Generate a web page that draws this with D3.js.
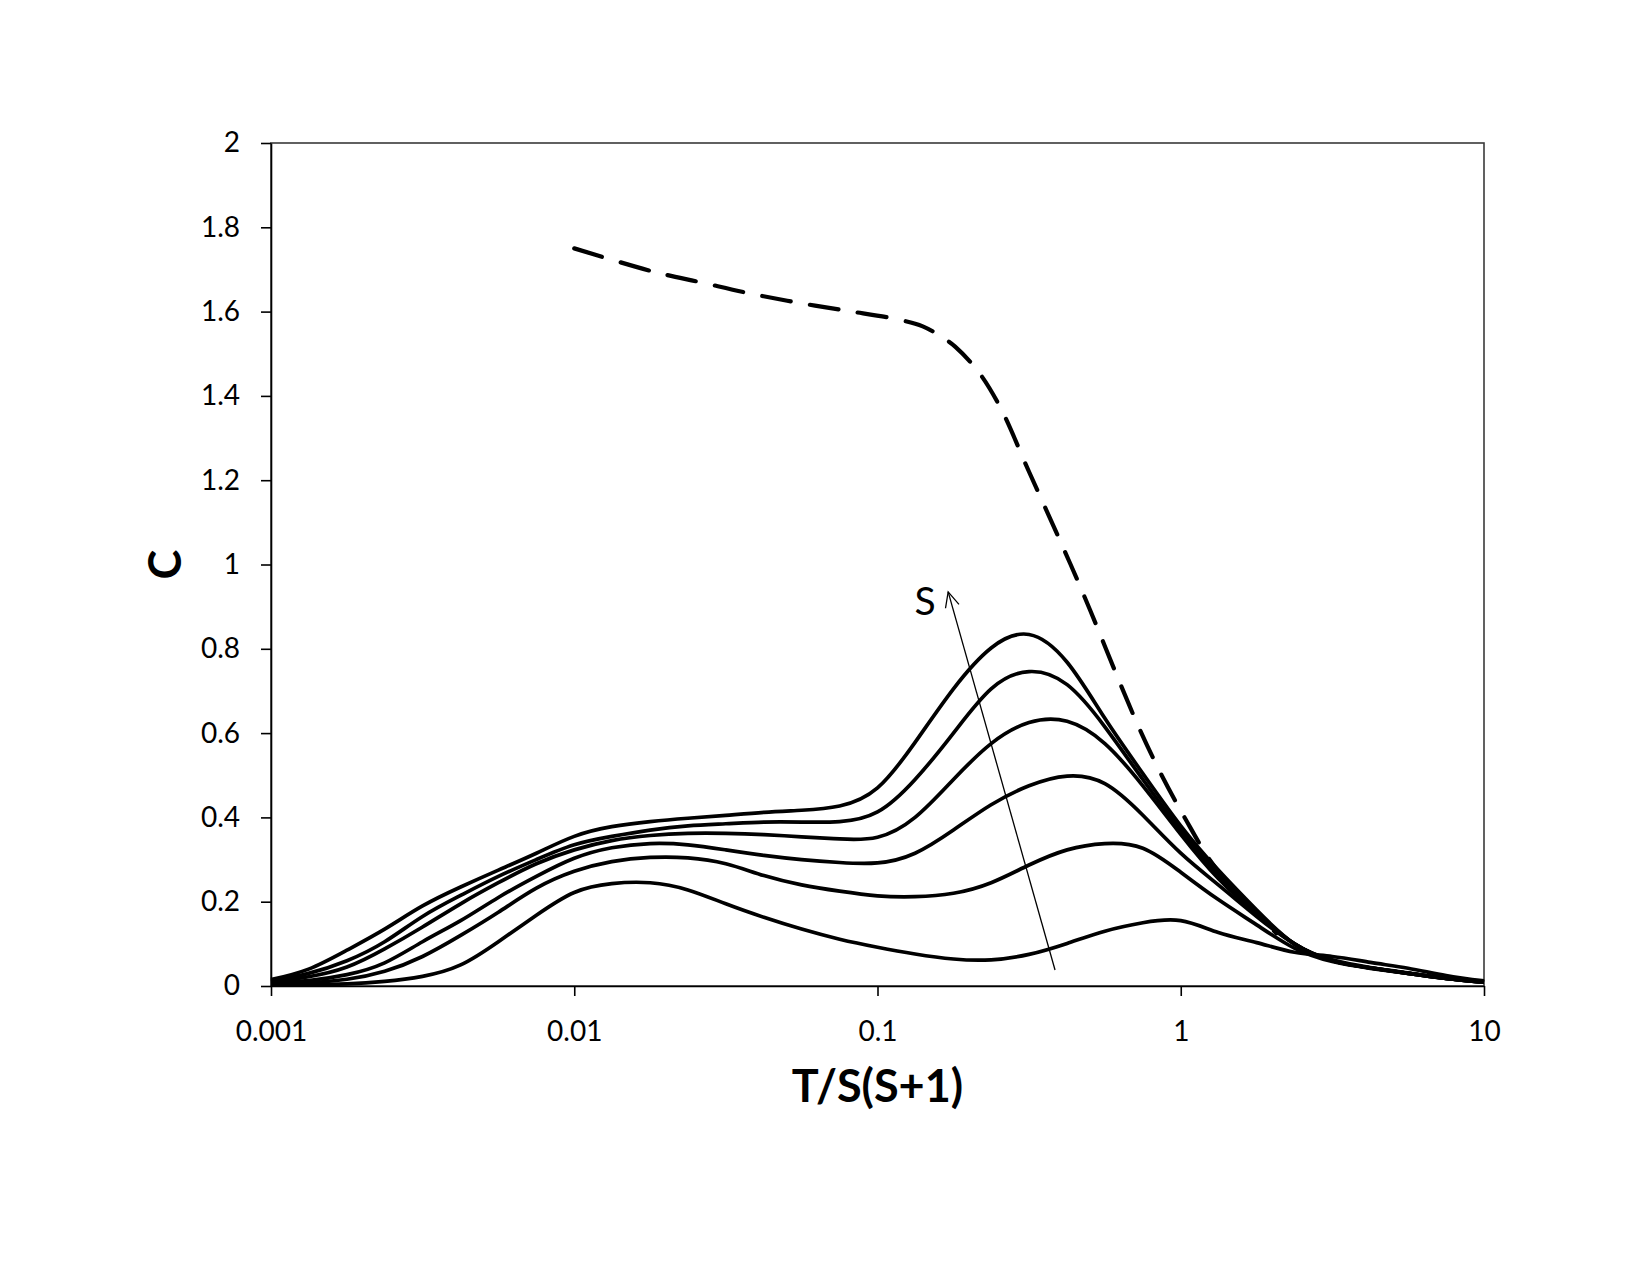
<!DOCTYPE html>
<html><head><meta charset="utf-8">
<script src="https://cdn.jsdelivr.net/npm/d3@7"></script>
<style>
body{margin:0;background:#fff;}
svg{display:block;}
text{font-family:Lato,'Open Sans',sans-serif;fill:#000;}
</style>
</head><body>
<svg id="chart" width="1650" height="1275"></svg>
<script>
// x values T/S(S+1) (log-spaced sampling)
const xGrid = [0.001,0.00133,0.00178,0.00237,0.00316,0.00422,0.00562,0.0075,0.01,0.0133,0.0178,0.0237,0.0316,0.0422,0.0562,0.075,0.1,0.133,0.178,0.237,0.316,0.422,0.562,0.75,1,1.33,1.78,2.37,3.16,4.22,5.62,7.5,10];
// C for increasing S (curve 1 = smallest S)
const curve1 = [0.003,0.003,0.005,0.011,0.023,0.05,0.105,0.168,0.222,0.243,0.245,0.228,0.195,0.163,0.135,0.111,0.092,0.076,0.064,0.062,0.075,0.101,0.13,0.15,0.155,0.127,0.103,0.08,0.07,0.056,0.042,0.025,0.012];
const curve2 = [0.005,0.008,0.016,0.035,0.07,0.12,0.175,0.232,0.272,0.295,0.305,0.304,0.29,0.262,0.24,0.225,0.214,0.212,0.22,0.245,0.287,0.323,0.338,0.327,0.27,0.205,0.145,0.09,0.058,0.042,0.03,0.018,0.009];
const curve3 = [0.008,0.013,0.027,0.055,0.105,0.155,0.21,0.26,0.303,0.328,0.338,0.335,0.323,0.31,0.3,0.293,0.292,0.315,0.37,0.43,0.475,0.498,0.48,0.405,0.315,0.24,0.165,0.1,0.06,0.043,0.03,0.018,0.009];
const curve4 = [0.01,0.022,0.045,0.088,0.14,0.195,0.245,0.29,0.323,0.345,0.357,0.362,0.362,0.359,0.354,0.349,0.353,0.40,0.49,0.575,0.625,0.628,0.575,0.475,0.36,0.255,0.17,0.1,0.06,0.043,0.03,0.018,0.009];
const curve5 = [0.012,0.03,0.06,0.105,0.165,0.215,0.26,0.3,0.335,0.355,0.37,0.38,0.385,0.389,0.389,0.39,0.413,0.49,0.60,0.705,0.746,0.715,0.615,0.49,0.37,0.265,0.175,0.1,0.06,0.043,0.03,0.018,0.009];
const curve6 = [0.015,0.04,0.085,0.135,0.19,0.235,0.275,0.315,0.355,0.378,0.39,0.398,0.405,0.412,0.417,0.427,0.47,0.578,0.705,0.802,0.834,0.768,0.635,0.504,0.38,0.275,0.18,0.1,0.062,0.044,0.031,0.018,0.009];
const solidSeries = [curve1,curve2,curve3,curve4,curve5,curve6];
// dashed limiting curve
const dashedX = [0.01,0.0182,0.0263,0.038,0.0548,0.0791,0.1156,0.141,0.1626,0.1803,0.2148,0.2535,0.316,0.4315,0.5023,0.631,0.7345,0.865,1.033,1.247,1.567,2.07];
const dashedY = [1.75,1.695,1.669,1.643,1.621,1.602,1.582,1.565,1.54,1.517,1.458,1.374,1.22,1.003,0.892,0.718,0.607,0.50,0.398,0.299,0.208,0.125];
// axes
const xTicks = [0.001,0.01,0.1,1,10];
const xTickLabels = ["0.001","0.01","0.1","1","10"];
const yTicks = [0,0.2,0.4,0.6,0.8,1,1.2,1.4,1.6,1.8,2];
const yTickLabels = ["0","0.2","0.4","0.6","0.8","1","1.2","1.4","1.6","1.8","2"];
const xTitle = "T/S(S+1)";
const yTitle = "C";
// arrow annotation (data coords): from, to, label
const arrowFrom = [0.385, 0.038];
const arrowTo = [0.171, 0.935];
const arrowLabel = "S";
const arrowLabelPos = [0.1435, 0.88];

(function(){
const svg = d3.select("#chart");
const mL = 271, mR = 1484, mT = 143, mB = 986;
const x = d3.scaleLog().domain([0.001,10]).range([mL,mR]);
const y = d3.scaleLinear().domain([0,2]).range([mB,mT]);
const FONT = "Lato,'Open Sans',sans-serif";

// frame
svg.append("rect").attr("x",mL).attr("y",mT).attr("width",mR-mL).attr("height",mB-mT)
  .attr("fill","none").attr("stroke","#3a3a3a").attr("stroke-width",1.6);

// x axis
const xAxis = d3.axisBottom(x).tickValues(xTicks)
  .tickFormat((d,i)=>xTickLabels[i]).tickSize(10).tickSizeOuter(0).tickPadding(25);
const gx = svg.append("g").attr("transform",`translate(0,${mB})`).call(xAxis);
gx.selectAll("text").style("font-size","28px").style("font-family",FONT).attr("fill","#000");
gx.selectAll("line,path").attr("stroke","#000").attr("stroke-width",1.6);

// y axis
const yAxis = d3.axisLeft(y).tickValues(yTicks)
  .tickFormat((d,i)=>yTickLabels[i]).tickSize(10).tickSizeOuter(0).tickPadding(21);
const gy = svg.append("g").attr("transform",`translate(${mL},0)`).call(yAxis);
gy.selectAll("text").style("font-size","28px").style("font-family",FONT).attr("fill","#000");
gy.selectAll("line,path").attr("stroke","#000").attr("stroke-width",1.6);

// titles
svg.append("text").attr("x",(mL+mR)/2).attr("y",1102).attr("text-anchor","middle")
  .style("font-size","45px").style("font-weight","bold").text(xTitle);
svg.append("text").attr("transform",`translate(181,${(mT+mB)/2}) rotate(-90)`).attr("text-anchor","middle")
  .style("font-size","45px").style("font-weight","bold").text(yTitle);

const solidLine = d3.line().x(d=>x(d[0])).y(d=>y(d[1])).curve(d3.curveNatural);
const dashLine = d3.line().x(d=>x(d[0])).y(d=>y(d[1])).curve(d3.curveCatmullRom.alpha(0.5));

// solid curves
svg.append("g").selectAll("path").data(solidSeries).join("path")
  .attr("d", s => solidLine(xGrid.map((xv,i)=>[xv,s[i]])))
  .attr("fill","none").attr("stroke","#000").attr("stroke-width",3.7).attr("stroke-linejoin","round");

// dashed curve
svg.append("path").attr("d", dashLine(dashedX.map((xv,i)=>[xv,dashedY[i]])))
  .attr("fill","none").attr("stroke","#000").attr("stroke-width",4.2)
  .attr("stroke-dasharray","29,19.5").attr("stroke-linecap","round");

// arrow
const defs = svg.append("defs");
defs.append("marker").attr("id","arr").attr("viewBox","0 0 20 20").attr("refX",18).attr("refY",10)
  .attr("markerWidth",20).attr("markerHeight",20).attr("markerUnits","userSpaceOnUse").attr("orient","auto")
  .append("path").attr("d","M3,3 L18,10 L3,17").attr("fill","none").attr("stroke","#000").attr("stroke-width",1.3);
svg.append("line").attr("x1",x(arrowFrom[0])).attr("y1",y(arrowFrom[1]))
  .attr("x2",x(arrowTo[0])).attr("y2",y(arrowTo[1]))
  .attr("stroke","#000").attr("stroke-width",1.3).attr("marker-end","url(#arr)");
svg.append("text").attr("x",x(arrowLabelPos[0])).attr("y",y(arrowLabelPos[1])).attr("text-anchor","middle")
  .style("font-size","39px").text(arrowLabel);
})();
</script>
</body></html>
